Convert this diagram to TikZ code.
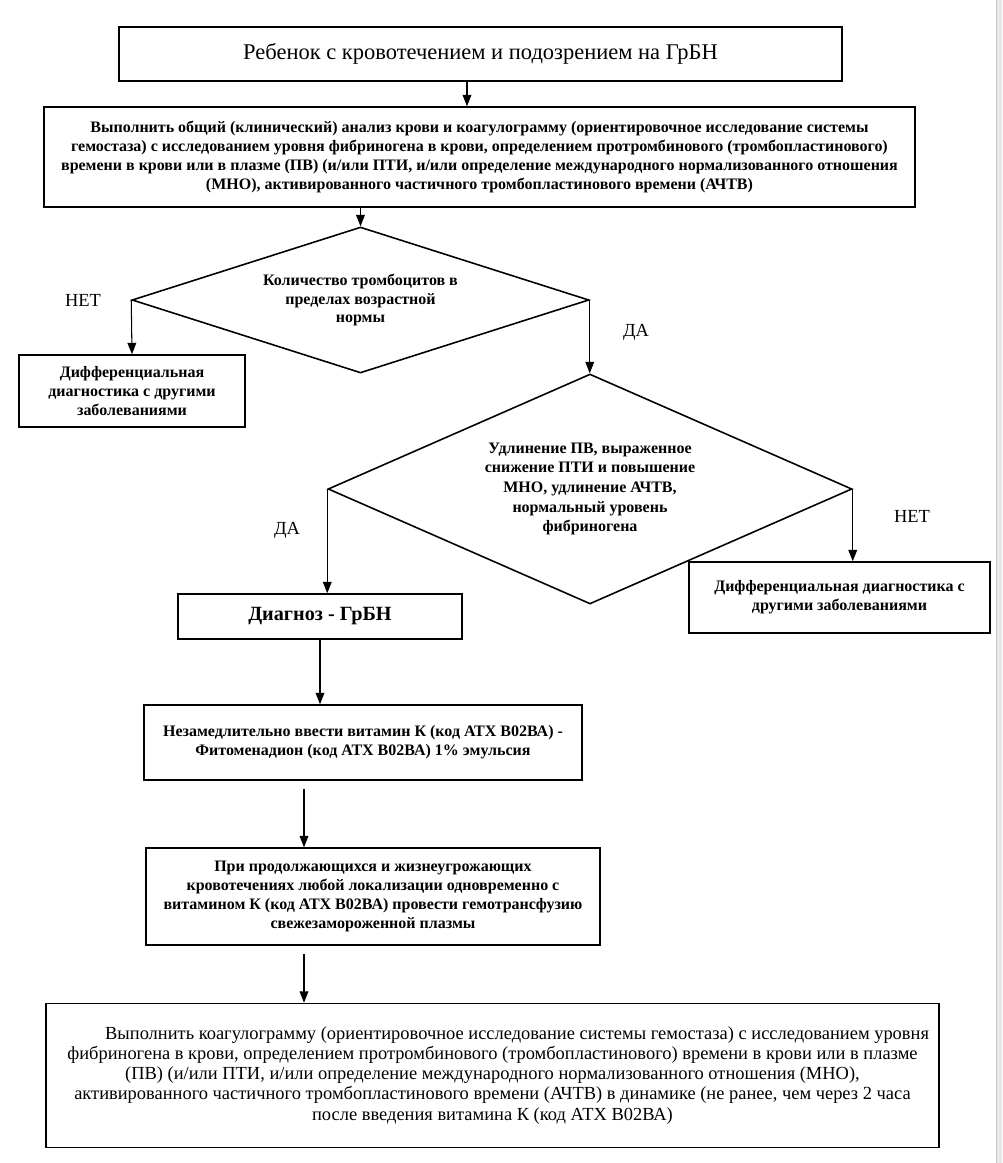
\documentclass[tikz,border=0pt]{standalone}
\usepackage{fontspec}
\setmainfont{Liberation Serif}
\usepackage{tikz}
\usetikzlibrary{shapes.geometric, arrows.meta}

\begin{document}
\begin{tikzpicture}[x=0.02cm, y=-0.02cm,
  box/.style={draw, line width=0.9pt, align=center, inner sep=0pt},
  decision/.style={draw, diamond, line width=0.9pt, align=center, inner sep=0pt},
  arr/.style={-{Triangle[length=6.5pt, width=5pt]}, line width=0.6pt},
  answer/.style={font=\fontsize{10.5}{12}\selectfont},
  smallbf/.style={font=\fontsize{9.1}{10.7}\selectfont\bfseries}
]

\useasboundingbox ( 0, 0 ) rectangle ( 1002, 1163 );

% Page edge
\fill [gray!18] ( 996, 0 ) rectangle ( 1002, 1163 );
\draw [gray!45, line width=0.4pt] ( 996.5, 0 ) -- ( 996.5, 1163 );

% Start
\node (child) at ( 480.5, 54 ) [box, minimum width=14.46cm, minimum height=1.08cm,
  font=\fontsize{12.8}{14}\selectfont] {Ребенок с кровотечением и подозрением на ГрБН};

% First tests
\node (tests) at ( 479.5, 157 ) [box, smallbf, minimum width=17.42cm, minimum height=2cm]
  {Выполнить общий (клинический) анализ крови и коагулограмму (ориентировочное исследование системы\\
   гемостаза) с исследованием уровня фибриногена в крови, определением протромбинового (тромбопластинового)\\
   времени в крови или в плазме (ПВ) (и/или ПТИ, и/или определение международного нормализованного отношения\\
   (МНО), активированного частичного тромбопластинового времени (АЧТВ)};

% Platelets
\node (plt) at ( 360.5, 300 ) [decision, smallbf, aspect=3.1, minimum width=9.14cm, minimum height=2.92cm]
  {Количество тромбоцитов в\\ пределах возрастной\\ нормы};
\node (diff1) at ( 132, 391 ) [box, smallbf, minimum width=4.52cm, minimum height=1.44cm]
  {Дифференциальная\\ диагностика с другими\\ заболеваниями};

% Coagulation
\node (coag) at ( 590, 489 ) [decision, smallbf, aspect=2.3, minimum width=10.48cm, minimum height=4.6cm,
  font=\fontsize{9.1}{11.2}\selectfont\bfseries]
  {Удлинение ПВ, выраженное\\ снижение ПТИ и повышение\\ МНО, удлинение АЧТВ,\\ нормальный уровень\\ фибриногена};
\node (diag) at ( 320, 616.5 ) [box, minimum width=5.68cm, minimum height=0.9cm,
  font=\fontsize{11.5}{13}\selectfont\bfseries] {Диагноз - ГрБН};
\node (diff2) at ( 839.5, 597.5 ) [box, smallbf, minimum width=6.02cm, minimum height=1.42cm]
  {Дифференциальная диагностика с\\ другими заболеваниями};

% Treatment
\node (vitk) at ( 363, 742.5 ) [box, smallbf, minimum width=8.76cm, minimum height=1.5cm]
  {Незамедлительно ввести витамин К (код АТХ В02ВА) -\\ Фитоменадион (код АТХ В02ВА) 1\% эмульсия};
\node (ffp) at ( 373, 896.5 ) [box, smallbf, minimum width=9.08cm, minimum height=1.94cm]
  {При продолжающихся и жизнеугрожающих\\ кровотечениях любой локализации одновременно с\\
   витамином К (код АТХ В02ВА) провести гемотрансфузию\\ свежезамороженной плазмы};
\node (retest) at ( 492.5, 1075.5 ) [box, minimum width=17.86cm, minimum height=2.88cm,
  font=\fontsize{10.5}{11.4}\selectfont]
  {\hspace*{28pt}Выполнить коагулограмму (ориентировочное исследование системы гемостаза) с исследованием уровня\\
   фибриногена в крови, определением протромбинового (тромбопластинового) времени в крови или в плазме\\
   (ПВ) (и/или ПТИ, и/или определение международного нормализованного отношения (МНО),\\
   активированного частичного тромбопластинового времени (АЧТВ) в динамике (не ранее, чем через 2 часа\\
   после введения витамина К (код АТХ В02ВА)};

% Answers
\node (no1) at ( 83, 300 ) [answer] {НЕТ};
\node (yes1) at ( 636, 332 ) [answer] {ДА};
\node (yes2) at ( 287, 530 ) [answer] {ДА};
\node (no2) at ( 912, 516 ) [answer] {НЕТ};

% Arrows
\draw [arr] (child.south) ++( -13.5, 0 ) coordinate (c1) -- (c1 |- tests.north);
\draw [arr] (plt.north |- tests.south) -- (plt.north);
\draw [arr] (plt.west) -- (diff1.north);
\draw [arr] (plt.east) -- (plt.east |- coag.north);
\draw [arr] (coag.west) -- (coag.west |- diag.north);
\draw [arr] (coag.east) -- (coag.east |- diff2.north);
\draw [arr] (diag.south) -- (diag.south |- vitk.north);
\draw [arr] (vitk.south) ++( -59, 8 ) coordinate (c2) -- (c2 |- ffp.north);
\draw [arr] (ffp.south) ++( -69, 8 ) coordinate (c3) -- (c3 |- retest.north);

\end{tikzpicture}
\end{document}
